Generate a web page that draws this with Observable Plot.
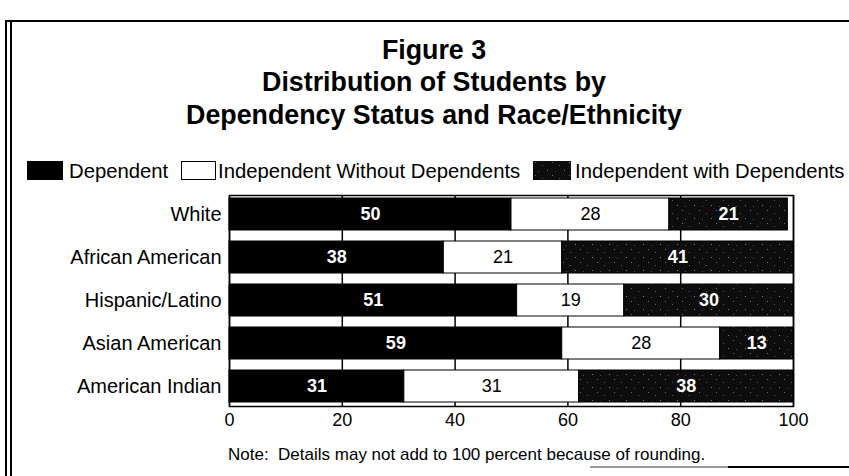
<!DOCTYPE html>
<html>
<head>
<meta charset="utf-8">
<script src="https://cdn.jsdelivr.net/npm/d3@7"></script>
<script src="https://cdn.jsdelivr.net/npm/@observablehq/plot@0.6"></script>
<style>
  html, body { margin: 0; padding: 0; background: #fff; }
  #wrap { position: relative; width: 849px; height: 476px; overflow: hidden; font-family: "Liberation Sans", Arial, Helvetica, sans-serif; color: #000; }
  .abs { position: absolute; white-space: nowrap; }
  .title { left: 134px; width: 600px; text-align: center; font-weight: bold; font-size: 26.8px; line-height: 32.5px; top: 33.5px; }
  .leg { font-size: 20.3px; line-height: 1; top: 160.8px; }
  .sw { position: absolute; top: 161px; height: 19px; box-sizing: border-box; border: 1px solid #000; }
  .note { font-size: 17px; line-height: 1; top: 445.6px; left: 228px; }
  .ln { position: absolute; background: #000; }
  #chart { position: absolute; left: 0; top: 183px; }
</style>
</head>
<body>
<svg width="0" height="0" style="position:absolute">
  <defs>
    <pattern id="speckle" patternUnits="userSpaceOnUse" width="17" height="13">
      <rect width="17" height="13" fill="#0d0d0d"></rect>
      <rect x="2" y="1" width="1" height="1" fill="#707070"></rect>
      <rect x="9" y="4" width="1" height="1" fill="#5a5a5a"></rect>
      <rect x="14" y="9" width="1" height="1" fill="#808080"></rect>
      <rect x="5" y="10" width="1" height="1" fill="#4a4a4a"></rect>
    </pattern>
  </defs>
</svg>
<div id="wrap">
  <div class="ln" style="left:5px; top:20px; width:1.5px; height:456px;"></div>
  <div class="ln" style="left:10px; top:20px; width:1.5px; height:456px;"></div>
  <div class="ln" style="left:5px; top:20px; width:844px; height:1.5px;"></div>
  <div class="ln" style="left:590px; top:466px; width:138px; height:2px; background:#999;"></div>
  <div class="ln" style="left:728px; top:466px; width:121px; height:2px;"></div>

  <div class="abs title">
    <div>Figure 3</div>
    <div>Distribution of Students by</div>
    <div>Dependency Status and Race/Ethnicity</div>
  </div>

  <div id="legend"></div>
  <div id="chart"></div>
  <div class="abs note">Note:&nbsp; Details may not add to 100 percent because of rounding.</div>
</div>
<script>
const categories = ["White", "African American", "Hispanic/Latino", "Asian American", "American Indian"];
const series = ["Dependent", "Independent Without Dependents", "Independent with Dependents"];
const dependent = [50, 38, 51, 59, 31];
const indepWithout = [28, 21, 19, 28, 31];
const indepWith = [21, 41, 30, 13, 38];
const xTicks = [0, 20, 40, 60, 80, 100];

const colors = ["#000000", "#ffffff", "url(#speckle)"];
const seriesValues = [dependent, indepWithout, indepWith];

const data = [];
categories.forEach((c, i) => {
  series.forEach((s, j) => {
    data.push({category: c, series: s, value: seriesValues[j][i]});
  });
});

// Legend (HTML)
const legend = document.getElementById("legend");
const legItems = [
  {sw: 27, swW: 36, tx: 69},
  {sw: 181, swW: 35, tx: 218},
  {sw: 533, swW: 38, tx: 575}
];
series.forEach((s, j) => {
  const sw = document.createElement("div");
  sw.className = "sw";
  sw.style.left = legItems[j].sw + "px";
  sw.style.width = legItems[j].swW + "px";
  if (j === 2) {
    sw.innerHTML = '<svg width="' + legItems[j].swW + '" height="19" style="display:block;position:absolute;left:-1px;top:-1px"><rect width="100%" height="100%" fill="url(#speckle)"></rect></svg>';
  } else {
    sw.style.background = colors[j];
  }
  legend.appendChild(sw);
  const t = document.createElement("div");
  t.className = "abs leg";
  t.style.left = legItems[j].tx + "px";
  t.textContent = s;
  legend.appendChild(t);
});

const chart = Plot.plot({
  width: 849,
  height: 256,
  marginLeft: 229,
  marginRight: 56,
  marginTop: 12,
  marginBottom: 33,
  style: {fontFamily: '"Liberation Sans", Arial, Helvetica, sans-serif', color: "#000", background: "transparent"},
  x: {domain: [0, 100], label: null},
  y: {domain: categories, label: null, paddingInner: 0.25, paddingOuter: 0.06},
  color: {domain: series, range: colors},
  marks: [
    Plot.gridX(xTicks, {stroke: "#000", strokeOpacity: 1, strokeWidth: 1.5}),
    Plot.frame({stroke: "#000", strokeWidth: 1.5}),
    Plot.barX(data, Plot.stackX({x: "value", y: "category", z: "series", fill: "series", stroke: "#000", strokeWidth: 1})),
    Plot.text(data, Plot.stackX({
      x: "value", y: "category", z: "series",
      text: d => d.series !== series[1] ? String(d.value) : "",
      fill: "#fff", fontWeight: "bold", fontSize: 18
    })),
    Plot.text(data, Plot.stackX({
      x: "value", y: "category", z: "series",
      text: d => d.series === series[1] ? String(d.value) : "",
      fill: "#000", fontSize: 18
    })),
    Plot.axisX(xTicks, {tickSize: 0, tickPadding: 7, fontSize: 18, label: null}),
    Plot.axisY({tickSize: 0, tickPadding: 8, fontSize: 20, label: null})
  ]
});
document.getElementById("chart").appendChild(chart);
</script>
</body>
</html>
